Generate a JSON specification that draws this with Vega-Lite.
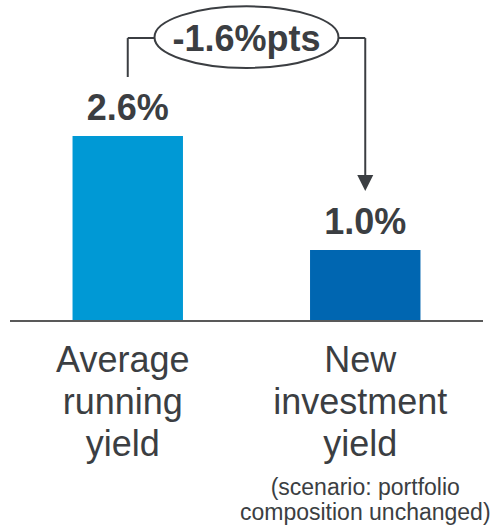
{
  "$schema": "https://vega.github.io/schema/vega-lite/v6.json",
  "width": 498,
  "height": 528,
  "autosize": {"type": "fit", "contains": "padding"},
  "padding": {"left": 9, "right": 13, "top": 0, "bottom": 0},
  "background": "white",
  "config": {"view": {"stroke": null}, "font": "Liberation Sans"},
  "datasets": {
    "bars": [
      {"category": "Average running yield", "value": 2.6, "label": "2.6%"},
      {"category": "New investment yield", "value": 1.0, "label": "1.0%"}
    ],
    "change": [{"category": "change", "label": "-1.6%pts"}],
    "note": [{"category": "New investment yield", "note": "(scenario: portfolio\ncomposition unchanged)"}]
  },
  "layer": [
    {
      "data": {"name": "bars"},
      "mark": {"type": "bar", "width": {"band": 0.93}},
      "encoding": {
        "x": {"field": "category", "type": "nominal", "axis": null,
              "scale": {"domain": ["Average running yield", "change", "New investment yield"], "paddingInner": 0, "paddingOuter": 0.4916, "align": 0.5}},
        "y": {"field": "value", "type": "quantitative", "axis": null,
              "scale": {"domain": [-2.909, 4.512], "nice": false, "zero": false}},
        "y2": {"datum": 0},
        "color": {"field": "category", "type": "nominal", "legend": null,
                  "scale": {"domain": ["Average running yield", "New investment yield"], "range": ["#0099D5", "#0066B1"]}}
      }
    },
    {
      "data": {"name": "change"},
      "mark": {"type": "rule", "color": "#595959", "strokeWidth": 2},
      "encoding": {"y": {"datum": 0, "type": "quantitative"}}
    },
    {
      "data": {"name": "change"},
      "mark": {"type": "rule", "color": "#3B3E42", "strokeWidth": 2},
      "encoding": {
        "x": {"datum": "Average running yield", "type": "nominal"},
        "y": {"datum": 3.43, "type": "quantitative"},
        "y2": {"datum": 3.977}
      }
    },
    {
      "data": {"name": "change"},
      "mark": {"type": "rule", "color": "#3B3E42", "strokeWidth": 2},
      "encoding": {
        "x": {"datum": "Average running yield", "type": "nominal"},
        "x2": {"datum": "New investment yield"},
        "y": {"datum": 3.977, "type": "quantitative"}
      }
    },
    {
      "data": {"name": "change"},
      "mark": {"type": "rule", "color": "#3B3E42", "strokeWidth": 2},
      "encoding": {
        "x": {"datum": "New investment yield", "type": "nominal"},
        "y": {"datum": 1.95, "type": "quantitative"},
        "y2": {"datum": 3.977}
      }
    },
    {
      "data": {"name": "change"},
      "mark": {"type": "point", "shape": "M-1,-1L1,-1L0,1Z", "size": 256, "filled": true, "fill": "#3B3E42", "opacity": 1, "strokeWidth": 0},
      "encoding": {
        "x": {"datum": "New investment yield", "type": "nominal"},
        "y": {"datum": 1.94, "type": "quantitative"}
      }
    },
    {
      "data": {"name": "change"},
      "mark": {"type": "point", "shape": "M-1,0A1,0.335,0,0,1,1,0A1,0.335,0,0,1,-1,0Z", "size": 33856, "filled": true, "fill": "white", "stroke": "#3B3E42", "strokeWidth": 2, "opacity": 1, "fillOpacity": 1, "strokeOpacity": 1},
      "encoding": {
        "x": {"field": "category", "type": "nominal"},
        "y": {"datum": 3.99, "type": "quantitative"}
      }
    },
    {
      "data": {"name": "change"},
      "mark": {"type": "text", "fontSize": 36, "fontWeight": "bold", "color": "#3B3E42", "baseline": "alphabetic", "align": "center"},
      "encoding": {
        "x": {"field": "category", "type": "nominal"},
        "y": {"datum": 3.795, "type": "quantitative"},
        "text": {"field": "label"}
      }
    },
    {
      "data": {"name": "bars"},
      "mark": {"type": "text", "fontSize": 36, "fontWeight": "bold", "color": "#3B3E42", "baseline": "alphabetic", "align": "center", "dy": -16},
      "encoding": {
        "x": {"field": "category", "type": "nominal"},
        "y": {"field": "value", "type": "quantitative"},
        "text": {"field": "label"}
      }
    },
    {
      "data": {"name": "bars"},
      "mark": {"type": "text", "fontSize": 36, "color": "#3B3E42", "baseline": "top", "align": "center", "lineBreak": " ", "lineHeight": 42, "dx": -5},
      "encoding": {
        "x": {"field": "category", "type": "nominal"},
        "y": {"datum": -0.318, "type": "quantitative"},
        "text": {"field": "category"}
      }
    },
    {
      "data": {"name": "note"},
      "mark": {"type": "text", "fontSize": 23, "color": "#3B3E42", "baseline": "alphabetic", "align": "center", "lineBreak": "\n", "lineHeight": 25},
      "encoding": {
        "x": {"field": "category", "type": "nominal"},
        "y": {"datum": -2.446, "type": "quantitative"},
        "text": {"field": "note"}
      }
    }
  ]
}
